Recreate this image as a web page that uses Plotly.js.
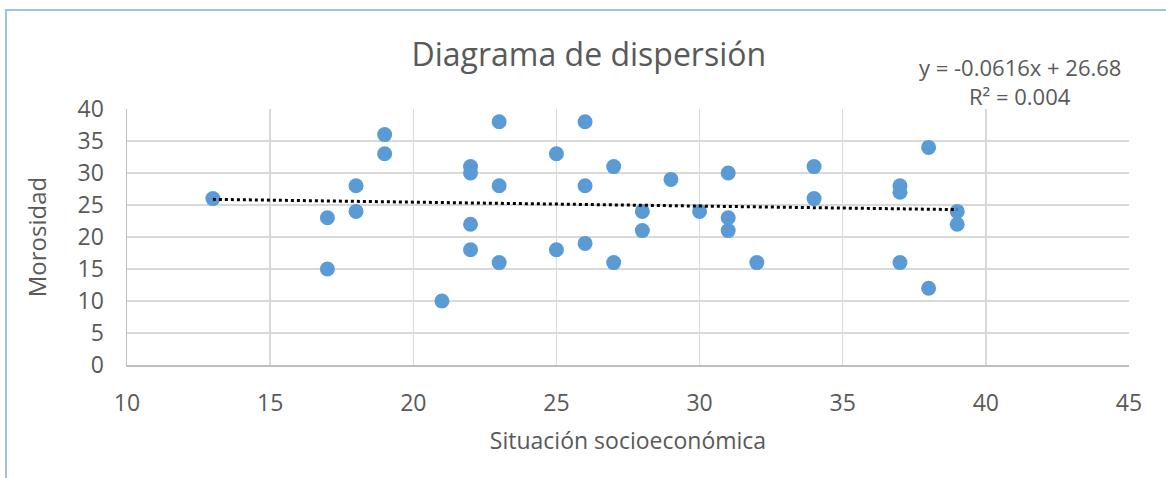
<!DOCTYPE html>
<html>
<head>
<meta charset="utf-8">
<script src="https://cdn.plot.ly/plotly-3.0.1.min.js"></script>
<style>
  html, body { margin: 0; padding: 0; background: #fff; }
  #wrap { position: relative; width: 1166px; height: 478px; overflow: hidden; }
  #frame { position: absolute; left: 5px; top: 9px; width: 1200px; height: 500px;
           border-left: 2px solid #9dc3e6; border-top: 2px solid #9dc3e6; box-sizing: border-box; }
  #chart { position: absolute; left: 0; top: 0; width: 1166px; height: 478px; }
</style>
</head>
<body>
<div id="wrap">
  <div id="frame"></div>
  <div id="chart"></div>
</div>
<script>
// Situación socioeconómica (x) and Morosidad (y)
const situacion = [13, 17, 17, 18, 18, 19, 19, 21, 22, 22, 22, 22, 23, 23, 23, 25, 25, 26, 26, 26,
                   27, 27, 28, 28, 29, 30, 31, 31, 31, 32, 34, 34, 37, 37, 37, 38, 38, 39, 39];
const morosidad  = [26, 23, 15, 28, 24, 36, 33, 10, 31, 30, 22, 18, 38, 28, 16, 33, 18, 38, 28, 19,
                    31, 16, 24, 21, 29, 24, 30, 23, 21, 16, 31, 26, 28, 27, 16, 34, 12, 24, 22];
const xTicks = [10, 15, 20, 25, 30, 35, 40, 45];
const yTicks = [0, 5, 10, 15, 20, 25, 30, 35, 40];
// linear trend as printed on the chart
const trendSlope = -0.0616;
const trendIntercept = 26.68;
const trendR2 = 0.004;
const trendText = ["y = " + trendSlope + "x + " + trendIntercept, "R² = " + trendR2];

const xmin = Math.min(...situacion), xmax = Math.max(...situacion);
const trendX = [xmin, xmax];
const trendY = trendX.map(v => trendSlope * v + trendIntercept);

const font = "'Open Sans', 'Noto Sans', sans-serif";
const txt = "#595959";

const data = [
  {
    x: situacion, y: morosidad, type: "scatter", mode: "markers",
    marker: { color: "#5b9bd5", size: 15, line: { width: 0 } },
    hoverinfo: "x+y", showlegend: false
  },
  {
    x: trendX, y: trendY, type: "scatter", mode: "lines",
    line: { color: "#000000", width: 3, dash: "dot" },
    hoverinfo: "skip", showlegend: false
  }
];

const layout = {
  width: 1166, height: 478,
  margin: { l: 127, r: 37, t: 109, b: 113, pad: 0 },
  paper_bgcolor: "rgba(0,0,0,0)", plot_bgcolor: "rgba(0,0,0,0)",
  font: { family: font, color: txt },
  title: {
    text: "Diagrama de dispersión",
    font: { family: font, size: 32, color: txt },
    x: 0.505, xanchor: "center", y: 0.885, yanchor: "middle"
  },
  xaxis: {
    range: [10, 45], tickvals: xTicks, ticktext: xTicks.map(String),
    showgrid: true, gridcolor: "#d9d9d9", gridwidth: 1.5,
    showline: true, linecolor: "#bfbfbf", linewidth: 2, zeroline: false,
    ticks: "outside", ticklen: 16, tickcolor: "rgba(0,0,0,0)",
    tickfont: { family: font, size: 23, color: txt },
    title: { text: "Situación socioeconómica", font: { family: font, size: 23, color: txt }, standoff: 16 },
    fixedrange: true
  },
  yaxis: {
    range: [0, 40], tickvals: yTicks, ticktext: yTicks.map(String),
    showgrid: true, gridcolor: "#d9d9d9", gridwidth: 1.5,
    showline: true, linecolor: "#bfbfbf", linewidth: 1.5, zeroline: false,
    ticks: "outside", ticklen: 17, tickcolor: "rgba(0,0,0,0)",
    tickfont: { family: font, size: 23, color: txt },
    title: { text: "Morosidad", font: { family: font, size: 24, color: txt }, standoff: 24 },
    fixedrange: true
  },
  annotations: [
    { text: trendText[0], xref: "paper", yref: "paper", x: 0.891, y: 1.165, xanchor: "center", yanchor: "middle",
      showarrow: false, font: { family: font, size: 22, color: txt } },
    { text: trendText[1], xref: "paper", yref: "paper", x: 0.891, y: 1.05, xanchor: "center", yanchor: "middle",
      showarrow: false, font: { family: font, size: 22, color: txt } }
  ]
};

Plotly.newPlot("chart", data, layout, { displayModeBar: false, staticPlot: true });
</script>
</body>
</html>
